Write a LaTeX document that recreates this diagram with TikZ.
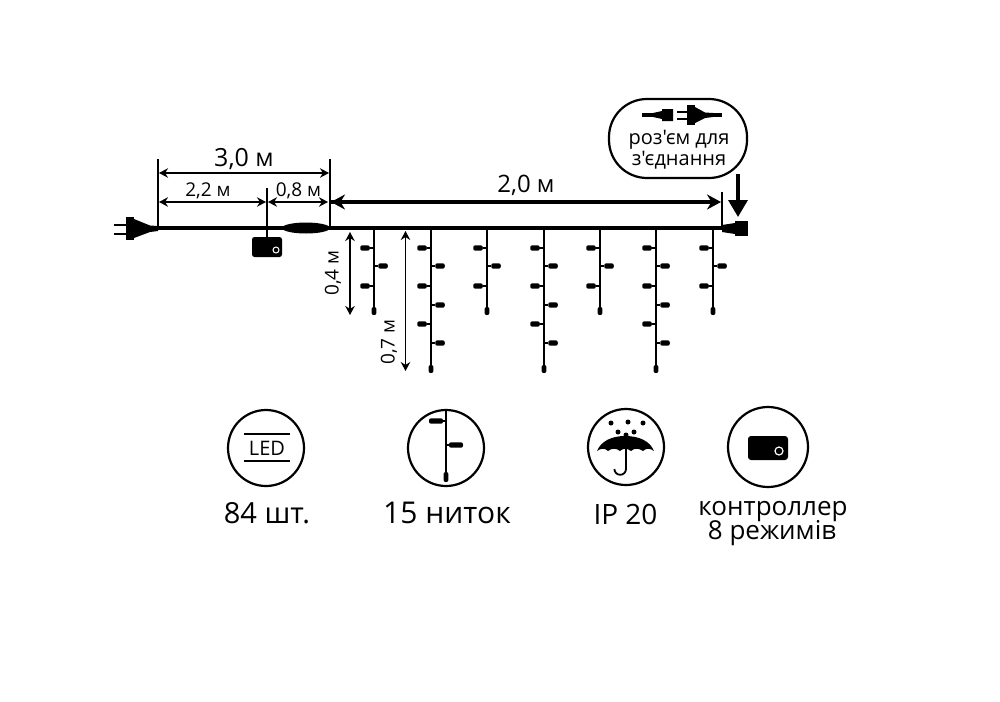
\documentclass[tikz,border=0pt]{standalone}
\usepackage{fontspec}
\setmainfont{Open Sans}
\newfontfamily\plainfont{Open Sans}
\usetikzlibrary{arrows.meta}
\usetikzlibrary{shapes.geometric}
\usetikzlibrary{calc}
\tikzstyle{dimen}=[line width=1.8pt,{Stealth[length=9pt,width=9.5pt]}-{Stealth[length=9pt,width=9.5pt]}]
\tikzstyle{dimenbig}=[line width=3.6pt,-{Stealth[length=14pt,width=15pt]}]
\tikzstyle{cable}=[line width=4.6pt]
\tikzstyle{tick}=[line width=2.4pt]
\tikzstyle{wire}=[line width=2.3pt]
\tikzstyle{led}=[draw=none,fill=black,rounded corners=2pt,minimum width=9.5pt,minimum height=5.4pt,inner sep=0pt]
\tikzstyle{ledend}=[draw=none,fill=black,rounded corners=2pt,minimum width=4.8pt,minimum height=8pt,inner sep=0pt]
\tikzstyle{badge}=[draw=black,line width=2.2pt,circle,inner sep=0pt]
\tikzstyle{size}=[inner sep=0pt,font=\fontsize{19}{19}\selectfont]
\tikzstyle{caption}=[inner sep=0pt,align=center]
\tikzstyle{bubbleline}=[inner sep=0pt,anchor=base,font=\plainfont\fontsize{20}{20}\selectfont]
\tikzstyle{ctrlline}=[inner sep=0pt,anchor=base,font=\fontsize{26}{26}\selectfont]
\begin{document}
\begin{tikzpicture}[x=1pt,y=-1pt]
  \useasboundingbox (0,0) rectangle (1000,701);

  % points on the main cable
  \coordinate (plugend) at (158,228);
  \coordinate (tickb) at (330,228);
  \coordinate (tickc) at (722,228);
  \coordinate (ctrlend) at (267,238);
  \coordinate (toptl) at (158,159);
  \coordinate (toptr) at (330,159);
  \coordinate (topm) at (267,188);
  \coordinate (topr) at (722,192);

  \draw[cable] (plugend) -- (tickc);
  \draw[tick] (toptl) -- (plugend);
  \draw[tick] (toptr) -- (tickb);
  \draw[tick] (topm) -- (ctrlend);
  \draw[tick] (topr) -- (tickc);

  % plug
  \fill (126,217) rectangle (134,240);
  \fill (134,219) -- (150,225.5) -- (158,226) -- (158,231) -- (150,232) -- (134,238) -- cycle;
  \draw[line width=2.8pt] (114,225) -- (126,225);
  \draw[line width=2.8pt] (114,234) -- (126,234);

  % junction
  \node[draw=none,fill=black,ellipse,minimum width=48pt,minimum height=11pt,inner sep=0pt] (joint) at (306,228) {};

  % controller
  \node[draw=none,fill=black,rounded corners=2.5pt,minimum width=30pt,minimum height=20pt,inner sep=0pt] (ctrl) at (267,247) {};
  \node[draw=white,line width=1pt,circle,minimum size=6pt,inner sep=0pt] (ctrlb) at (276,250) {};

  % socket at the far end
  \fill (722,225) -- (735,223) -- (735,234) -- (722,232) -- cycle;
  \fill (735,221) rectangle (748,236);

  % dimensions
  \coordinate (da) at (159,173);
  \coordinate (db) at (329,173);
  \coordinate (dc) at (159,202);
  \coordinate (dd) at (266,202);
  \coordinate (de) at (268,202);
  \coordinate (df) at (328,202);
  \coordinate (dg) at (331,202);
  \coordinate (dh) at (721,202);
  \draw[dimen] (da) -- (db);
  \draw[dimen] (dc) -- (dd);
  \draw[dimen] (de) -- (df);
  \draw[dimenbig] (dg) -- (dh);
  \draw[dimenbig,{Stealth[length=14pt,width=15pt]}-] (dg) -- ($(dg)!0.5!(dh)$);

  \node[inner sep=0pt,font=\fontsize{25}{25}\selectfont] (three) at (244,159) {3,0 м};
  \node[size] (twotwo) at (208,191) {2,2 м};
  \node[size] (zeroeight) at (298.5,191) {0,8 м};
  \node[inner sep=0pt,font=\fontsize{24}{24}\selectfont] (two) at (526,185) {2,0 м};

  % strands
  \foreach \x/\n/\b in {374/a/315,431/b/373,487/c/315,544/d/373,600/e/315,656/f/373,713/g/315}{
    \coordinate (\n0) at (\x,228);
    \node[ledend] (\n9) at (\x,\b-4) {};
    \draw[wire] (\n0) -- (\n9);
    \node[led] (\n1) at (\x-9,248) {};
    \draw[wire] (\n1) -- (\x,248);
    \node[led] (\n2) at (\x+9,266) {};
    \draw[wire] (\n2) -- (\x,266);
    \node[led] (\n3) at (\x-9,286) {};
    \draw[wire] (\n3) -- (\x,286);
  }
  \foreach \x/\n in {431/b,544/d,656/f}{
    \node[led] (\n4) at (\x+9,305) {};
    \draw[wire] (\n4) -- (\x,305);
    \node[led] (\n5) at (\x-9,324) {};
    \draw[wire] (\n5) -- (\x,324);
    \node[led] (\n6) at (\x+9,343) {};
    \draw[wire] (\n6) -- (\x,343);
  }

  % strand lengths
  \coordinate (sa) at (350,232);
  \coordinate (sb) at (350,315);
  \coordinate (sc) at (405.5,231);
  \coordinate (sd) at (405.5,371);
  \draw[dimen] (sa) -- (sb);
  \draw[dimen] (sc) -- (sd);
  \node[size,rotate=90] (fourlabel) at (333,273) {0,4 м};
  \node[size,rotate=90] (sevenlabel) at (389,342) {0,7 м};

  % connector callout
  \node[draw=black,line width=2.2pt,rounded corners=38pt,minimum width=138pt,minimum height=79pt,inner sep=0pt] (bubble) at (678,138.5) {};
  \node[bubbleline] (bubbletexta) at (679,144.5) {роз'єм для};
  \node[bubbleline] (bubbletextb) at (679,165) {з'єднання};
  \draw[line width=3.6pt] (642,115) -- (655,115);
  \fill (653,113) -- (662,111) -- (662,109) -- (673,109) -- (673,121) -- (662,121) -- (662,119) -- (653,117) -- cycle;
  \fill (687,105) rectangle (695,125);
  \fill (695,107) -- (705,112.5) -- (713,113) -- (713,117) -- (705,118) -- (695,123) -- cycle;
  \draw[line width=2.6pt] (677,112) -- (688,112);
  \draw[line width=2.6pt] (677,119) -- (688,119);
  \draw[line width=3.6pt] (712,115) -- (722,115);
  \coordinate (ptop) at (738,174);
  \coordinate (pend) at (738,217);
  \draw[line width=3.4pt,-{Stealth[length=17pt,width=19pt,inset=0pt]}] (ptop) -- (pend);

  % LED badge
  \node[badge,minimum size=76pt] (ledbadge) at (266,448) {};
  \coordinate (la) at (244,434);
  \coordinate (lb) at (290,434);
  \coordinate (lc) at (244,461);
  \coordinate (ld) at (290,461);
  \draw[line width=1.8pt] (la) -- (lb);
  \draw[line width=1.8pt] (lc) -- (ld);
  \node[inner sep=0pt,font=\fontsize{20}{20}\selectfont] (ledlabel) at (267,448) {LED};
  \node[caption,font=\fontsize{29}{29}\selectfont] (ledcount) at (267,513) {84 шт.};

  % strand badge
  \node[badge,minimum size=76pt] (strandbadge) at (446,448) {};
  \coordinate (ta) at (446,410);
  \node[ledend,minimum height=10pt] (tb) at (446,477) {};
  \draw[wire] (ta) -- (tb);
  \node[led,minimum width=14pt] (tc) at (436,421) {};
  \node[led,minimum width=14pt] (td) at (456,445) {};
  \draw[wire] (tc) -- (446,421);
  \draw[wire] (td) -- (446,445);
  \node[caption,font=\fontsize{30}{30}\selectfont] (strandcount) at (447,513) {15 ниток};

  % umbrella badge
  \node[badge,minimum size=76pt] (rainbadge) at (626,447) {};
  \fill (597,451) .. controls (601,441) and (612,436) .. (625,436) .. controls (639,436) and (650,441) .. (654,451)
    .. controls (650,448) and (646,448) .. (643,451) .. controls (639,448) and (634,448) .. (631,451)
    .. controls (627,448) and (623,448) .. (620,451) .. controls (616,448) and (612,448) .. (608,451)
    .. controls (605,448) and (601,448) .. (597,451) -- cycle;
  \draw[line width=1.8pt] (626,438) -- (626,469) arc[start angle=0,end angle=180,radius=5.8];
  \foreach \dx/\dy/\n in {611/423/a,628/422/b,643/423/c,618/432/d,626/435/e,634/432/f}{
    \node[fill=black,circle,minimum size=5pt,inner sep=0pt] (drop\n) at (\dx,\dy) {};
  }
  \node[caption,font=\fontsize{28}{28}\selectfont] (iplabel) at (625.5,514) {IP 20};

  % controller badge
  \node[badge,minimum size=80pt] (ctrlbadge) at (768,447) {};
  \node[draw=none,fill=black,rounded corners=3pt,minimum width=40pt,minimum height=24pt,inner sep=0pt] (ctrlicon) at (768,448) {};
  \node[draw=white,line width=1.2pt,circle,minimum size=8pt,inner sep=0pt] (ctrliconb) at (779,451) {};
  \node[ctrlline] (ctrllabela) at (773,515) {контроллер};
  \node[ctrlline] (ctrllabelb) at (772,539) {8 режимів};
\end{tikzpicture}
\end{document}
